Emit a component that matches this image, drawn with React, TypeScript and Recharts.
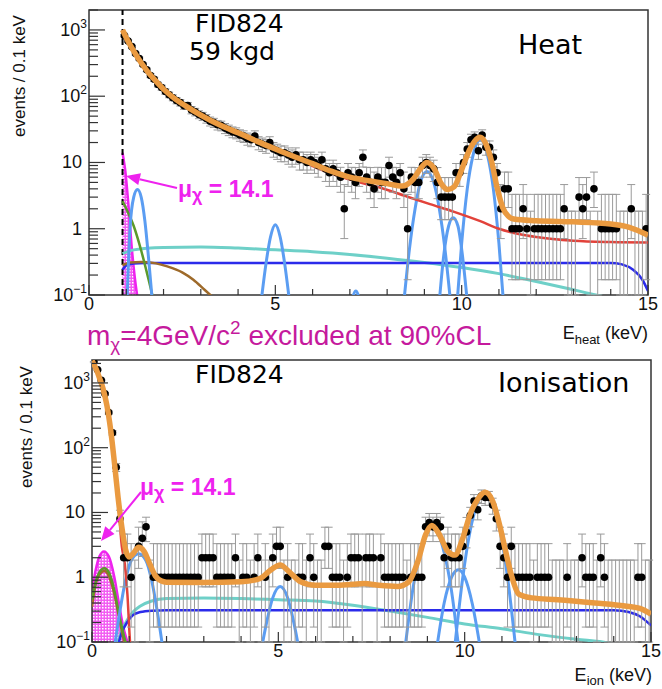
import React from 'react';
import {
  ComposedChart,
  Line,
  Area,
  Scatter,
  ErrorBar,
  XAxis,
  YAxis,
  ReferenceLine,
  ReferenceArea,
} from 'recharts';

type Pt = [number, number];

// events per 0.1 keV bin: entry i is the bin [i/10, (i+1)/10) keV, null = below threshold
const heatCounts: (number | null)[] = [
  null, null, null, null, null, null, null, null, null, 820,
  680, 560, 440, 370, 300, 250, 205, 180, 150, 135,
  118, 105, 95, 86, 80, 72, 72, 62, 58, 53,
  50, 46, 42, 40, 37, 36, 33, 31, 29, 28,
  26, 25, 23, 22, 25, 20, 19, 18, 20, 16,
  15, 14, 14, 13, 12, 13, 11, 11, 10, 11,
  10, 9, 11, 8, 7, 8, 7, 6, 2, 7,
  6, 5, 7, 12, 6, 5, 4, 6, 5, 5,
  9, 6, 5, 7, 4, 1, 6, 5, 5, 9,
  10, 9, 8, 5, 3, 3, 3, 3, 7, 7,
  10, 16, 22, 24, 15, 26, 17, 17, 12, 7,
  2, 4, 4, 1, 1, 1, 2, 1, 0, 1,
  1, 1, 1, 1, 1, 1, 1, 2, 0, 0,
  0, 3, 2, 3, 0, 4, 0, 1, 1, 1,
  1, 1, 0, 0, 0, 2, 0, 0, 0, 1,
];

const ionCounts: number[] = [
  2100, 1600, 1100, 680, 350, 170, 50, 8, 2, 2,
  1, 0, 3, 4, 6, 0, 1, 1, 1, 1,
  1, 1, 1, 1, 1, 1, 1, 1, 1, 2,
  2, 2, 2, 1, 1, 1, 1, 1, 2, 0,
  1, 1, 0, 1, 2, 0, 1, 0, 2, 3,
  3, 0, 1, 0, 0, 1, 1, 0, 2, 1,
  0, 0, 3, 3, 1, 1, 1, 0, 1, 2,
  2, 2, 0, 2, 2, 2, 0, 2, 1, 1,
  1, 1, 1, 1, 0, 1, 1, 1, 1, 6,
  7, 6, 7, 6, 2, 3, 2, 2, 2, 3,
  5, 9, 15, 11, 18, 17, 17, 13, 8, 3,
  2, 1, 3, 1, 1, 1, 1, 1, 0, 1,
  1, 1, 1, 0, 0, 0, 0, 1, 0, 0,
  0, 2, 1, 1, 1, 0, 2, 1, 0, 0,
  0, 0, 0, 0, 0, 0, 1, 1, 0, 0,
];

// heat channel fit, [keV, events / 0.1 keV]
const heatTotal: Pt[] = [
  [0.9, 1000], [1.0, 760], [1.2, 480], [1.4, 320], [1.6, 225], [1.8, 168], [2.0, 128],
  [2.3, 92], [2.6, 71], [3.0, 52], [3.5, 37], [4.0, 28], [4.5, 21], [5.0, 16],
  [5.5, 12.3], [6.0, 9.6], [6.5, 7.4], [7.0, 6.0], [7.5, 5.3], [8.0, 4.8], [8.4, 4.4],
  [8.7, 5.6], [8.9, 8.2], [9.07, 10], [9.25, 8.3], [9.45, 4.8], [9.63, 3.9], [9.8, 4.3],
  [10.0, 7.8], [10.2, 15], [10.35, 21], [10.49, 24], [10.65, 19], [10.8, 10.5], [10.95, 4.2],
  [11.1, 2.1], [11.25, 1.55], [11.4, 1.4], [12.0, 1.32], [13.0, 1.27], [14.0, 1.18],
  [14.5, 1.05], [15.0, 0.8],
];
const heatHeatOnly: Pt[] = [
  [0.9, 990], [1.0, 750], [1.2, 472], [1.4, 315], [1.6, 220], [1.8, 164], [2.0, 125],
  [2.3, 90], [2.6, 69], [3.0, 50.5], [3.5, 36], [4.0, 27], [4.5, 20], [5.0, 15],
  [5.5, 11.5], [6.0, 8.8], [6.5, 6.8], [7.0, 5.5], [7.5, 4.6], [7.8, 4.2], [8.5, 3.1],
  [9.15, 2.35], [9.8, 1.8], [10.5, 1.3], [11.0, 1.0], [11.5, 0.84], [12.0, 0.75],
  [13.0, 0.66], [14.0, 0.63], [15.0, 0.62],
];
const heatCompton: Pt[] = [
  [0.9, 0.42], [1.2, 0.48], [2.0, 0.52], [3.0, 0.53], [4.0, 0.51], [5.0, 0.48], [6.0, 0.45],
  [7.0, 0.41], [8.0, 0.36], [9.0, 0.31], [10.0, 0.26], [11.0, 0.21], [12.0, 0.16],
  [13.0, 0.12], [13.6, 0.1], [14.0, 0.09],
];
const heatFlat: Pt[] = [
  [0.9, 0.24], [1.0, 0.28], [1.2, 0.3], [1.5, 0.305], [14.0, 0.305], [14.3, 0.29],
  [14.6, 0.24], [14.85, 0.17], [15.0, 0.115],
];
const heatBeta: Pt[] = [
  [0.9, 0.28], [1.1, 0.31], [1.4, 0.315], [1.8, 0.3], [2.1, 0.27], [2.5, 0.22],
  [2.8, 0.17], [3.1, 0.12], [3.3, 0.095],
];
const heatLead: Pt[] = [
  [0.9, 2.6], [1.0, 2.0], [1.2, 1.1], [1.4, 0.47], [1.6, 0.17], [1.7, 0.1], [1.75, 0.08],
];
const heatWimp: Pt[] = [
  [0.9, 14], [0.93, 11], [0.97, 7.8], [1.05, 2.6], [1.15, 0.5], [1.28, 0.11], [1.32, 0.08],
];
const heatLines: Pt[][] = [
  [[1.02, 0.08], [1.1, 1.0], [1.2, 3.0], [1.3, 3.9], [1.4, 3.0], [1.5, 1.3], [1.6, 0.35], [1.7, 0.08]],
  [[4.62, 0.08], [4.75, 0.3], [4.87, 0.75], [5.0, 1.15], [5.13, 0.75], [5.25, 0.3], [5.38, 0.08]],
  [[7.05, 0.08], [7.16, 0.115], [7.27, 0.08]],
  [[8.45, 0.08], [8.6, 0.5], [8.75, 2.0], [8.9, 5.2], [9.07, 7.3], [9.25, 5.0], [9.4, 2.0], [9.55, 0.5], [9.7, 0.08]],
  [[9.4, 0.08], [9.52, 0.4], [9.65, 1.1], [9.77, 1.47], [9.9, 1.1], [10.02, 0.4], [10.15, 0.08]],
  [[9.88, 0.08], [10.0, 0.6], [10.15, 4.0], [10.3, 12.5], [10.5, 22], [10.7, 12.5], [10.85, 4.0], [11.0, 0.6], [11.12, 0.08]],
];

// ionisation channel fit
const ionTotal: Pt[] = [
  [0.0, 2200], [0.1, 1700], [0.2, 1200], [0.3, 800], [0.4, 450], [0.5, 190], [0.6, 60],
  [0.7, 17], [0.8, 6], [0.9, 2.7], [1.0, 2.05], [1.1, 2.3], [1.25, 2.9], [1.4, 2.5],
  [1.55, 1.6], [1.7, 1.05], [1.85, 0.88], [2.0, 0.84], [3.0, 0.83], [4.0, 0.85], [4.5, 0.95],
  [4.8, 1.3], [5.05, 1.55], [5.3, 1.2], [5.6, 0.85], [6.0, 0.75], [6.5, 0.75], [7.0, 0.78],
  [7.3, 0.8], [7.7, 0.75], [8.2, 0.72], [8.5, 0.85], [8.75, 1.8], [8.95, 4.5], [9.12, 6.3],
  [9.3, 4.8], [9.55, 2.5], [9.74, 2.2], [9.95, 4], [10.15, 9.5], [10.35, 16], [10.55, 20.5],
  [10.75, 15], [10.95, 6], [11.1, 2.5], [11.25, 1.1], [11.45, 0.55], [11.8, 0.48],
  [12.5, 0.45], [13.5, 0.4], [14.3, 0.36], [14.7, 0.33], [15.0, 0.27],
];
const ionHeatOnly: Pt[] = [
  [0.0, 2150], [0.2, 1150], [0.4, 430], [0.6, 55], [0.7, 15], [0.8, 3.0], [0.88, 1.6],
  [0.95, 0.55], [1.02, 0.1], [1.05, 0.06],
];
const ionCompton: Pt[] = [
  [0.65, 0.08], [0.8, 0.15], [0.95, 0.22], [1.1, 0.29], [1.3, 0.36], [1.6, 0.43], [2.0, 0.47],
  [3.0, 0.48], [4.0, 0.47], [5.0, 0.45], [6.0, 0.43], [7.0, 0.37], [8.0, 0.3], [9.0, 0.24],
  [10.0, 0.19], [11.0, 0.16], [12.0, 0.13], [13.0, 0.11], [13.7, 0.1], [14.2, 0.09],
];
const ionFlat: Pt[] = [
  [0.7, 0.09], [0.8, 0.14], [0.94, 0.2], [1.1, 0.26], [1.3, 0.29], [1.6, 0.305], [2.0, 0.31],
  [14.0, 0.31], [14.4, 0.29], [14.7, 0.25], [15.0, 0.18],
];
const ionBeta: Pt[] = [
  [0.0, 0.35], [0.1, 0.8], [0.2, 1.1], [0.33, 1.25], [0.45, 1.05], [0.6, 0.55], [0.72, 0.25],
  [0.82, 0.13], [0.88, 0.09],
];
const ionLead: Pt[] = [
  [0.0, 0.45], [0.1, 0.85], [0.2, 1.2], [0.33, 1.38], [0.45, 1.2], [0.58, 0.7], [0.7, 0.32],
  [0.8, 0.17], [0.9, 0.1], [0.95, 0.08],
];
const ionWimp: Pt[] = [
  [0.0, 0.6], [0.1, 1.3], [0.2, 2.1], [0.32, 2.5], [0.45, 2.1], [0.6, 1.0], [0.72, 0.4],
  [0.83, 0.18], [0.95, 0.1], [1.0, 0.08],
];
const ionLines: Pt[][] = [
  [[0.6, 0.08], [0.75, 0.3], [0.9, 0.9], [1.05, 1.8], [1.25, 2.3], [1.45, 1.8], [1.6, 0.9], [1.75, 0.3], [1.9, 0.08]],
  [[4.55, 0.08], [4.7, 0.22], [4.85, 0.48], [5.05, 0.72], [5.25, 0.48], [5.4, 0.22], [5.55, 0.08]],
  [[8.4, 0.08], [8.6, 0.6], [8.8, 2.4], [8.95, 4.5], [9.12, 5.7], [9.3, 4.5], [9.45, 2.4], [9.65, 0.6], [9.84, 0.08]],
  [[9.25, 0.08], [9.45, 0.4], [9.65, 1.0], [9.83, 1.3], [10.0, 1.0], [10.2, 0.4], [10.42, 0.08]],
  [[9.73, 0.08], [9.95, 1.0], [10.15, 5.3], [10.35, 14.3], [10.55, 20], [10.75, 14.3], [10.95, 5.3], [11.15, 1.0], [11.37, 0.08]],
];

const xTicks = [0, 1, 2, 3, 4, 5, 6, 7, 8, 9, 10, 11, 12, 13, 14, 15];
const decades = [0.1, 1, 10, 100, 1000];
const mantissas = [1, 2, 3, 4, 5, 6, 7, 8, 9];

// Garwood 68% intervals for small counts
const poisLo = [0, 0.17, 0.71, 1.37, 2.09, 2.84];
const poisHi = [1.84, 3.3, 4.64, 5.92, 7.16, 8.38];

const ORANGE = '#EA9A40';
const RED = '#E2423A';
const LIGHTBLUE = '#5B9DF2';
const CYAN = '#6ED0C8';
const BLUE = '#2B2BEA';
const BROWN = '#9E6A2A';
const GREEN = '#5B9A2B';
const MAGENTA = '#EE22EE';
const EXCL = '#C51A9D';
const FONT = '"Liberation Sans", Arial, Helvetica, sans-serif';
const TITLE_FONT = '"DejaVu Sans", Verdana, sans-serif';

const toPts = (pts: Pt[]) => pts.map(([x, y]) => ({ x, y }));

const binData = (counts: (number | null)[]) => {
  const bins = counts
    .map((n, i) => ({ x: (i + 0.5) / 10, n }))
    .filter((b) => b.n !== null) as { x: number; n: number }[];
  const filled = bins
    .filter((b) => b.n > 0)
    .map((b) => ({
      x: b.x,
      y: b.n,
      err:
        b.n < poisHi.length
          ? [b.n - poisLo[b.n], poisHi[b.n] - b.n]
          : [Math.sqrt(b.n), Math.sqrt(b.n)],
    }));
  const empty = bins
    .filter((b) => b.n === 0)
    .map((b) => ({ x: b.x, y: 0.1, err: [0, poisHi[0] - 0.1] }));
  return { filled, empty };
};

const yTickShape = (left: number) => (p: any) => {
  const v = p.payload.value;
  const lg = Math.log10(v);
  const e = Math.round(lg);
  const major = Math.abs(lg - e) < 1e-6;
  const plain = e === 0 || e === 1;
  return (
    <g>
      <line x1={left} x2={left + (major ? 16 : 9)} y1={p.y} y2={p.y} stroke="#333" strokeWidth={1.2} />
      {major && (
        <text
          x={plain ? left - 7 : left - 2}
          y={p.y + 6}
          textAnchor="end"
          fontSize={18}
          fontFamily={FONT}
          fill="#111"
        >
          {plain ? (
            String(v)
          ) : (
            <>
              <tspan>10</tspan>
              <tspan dy={-8} fontSize={12}>
                {e < 0 ? '\u2212' + -e : String(e)}
              </tspan>
            </>
          )}
        </text>
      )}
    </g>
  );
};

const xTickShape = (bottom: number) => (p: any) => {
  const v = p.payload.value;
  const major = v % 5 === 0;
  return (
    <g>
      <line x1={p.x} x2={p.x} y1={bottom} y2={bottom - (major ? 10 : 6)} stroke="#333" strokeWidth={1.2} />
      {major && (
        <text x={p.x} y={bottom + 15} textAnchor="middle" fontSize={18} fontFamily={FONT} fill="#111">
          {v}
        </text>
      )}
    </g>
  );
};

interface PanelProps {
  id: string;
  top: number;
  height: number;
  margin: { top: number; right: number; bottom: number; left: number };
  yMax: number;
  counts: (number | null)[];
  total: Pt[];
  heatOnly: Pt[];
  compton: Pt[];
  flat: Pt[];
  beta: Pt[];
  lead: Pt[];
  wimp: Pt[];
  lines: Pt[][];
  threshold?: number;
}

const Panel = (props: PanelProps) => {
  const { id, top, height, margin, yMax, counts } = props;
  const plotLeft = margin.left + 60;
  const plotBottom = height - margin.bottom - 30;
  const yTicks: number[] = [];
  decades.forEach((d) => mantissas.forEach((m) => m * d <= yMax && yTicks.push(m * d)));
  const { filled, empty } = binData(counts);
  const curve = (pts: Pt[], color: string, w: number, key: string) => (
    <Line
      key={key}
      data={toPts(pts)}
      dataKey="y"
      type="monotone"
      stroke={color}
      strokeWidth={w}
      dot={false}
      isAnimationActive={false}
    />
  );

  return (
    <div style={{ position: 'absolute', left: 0, top }}>
      <ComposedChart width={662} height={height} margin={margin}>
        <defs>
          <pattern id={`dots-${id}`} width="3" height="3" patternUnits="userSpaceOnUse">
            <rect width="3" height="3" fill="#F25CF2" />
            <rect width="1.5" height="1.5" fill="#FFFFFF" />
          </pattern>
        </defs>
        <XAxis
          dataKey="x"
          type="number"
          domain={[0, 15]}
          ticks={xTicks}
          interval={0}
          allowDataOverflow
          axisLine={false}
          tickLine={false}
          tickSize={0}
          tickMargin={0}
          height={30}
          tick={xTickShape(plotBottom)}
        />
        <YAxis
          type="number"
          scale="log"
          domain={[0.1, yMax]}
          ticks={yTicks}
          interval={0}
          allowDataOverflow
          axisLine={false}
          tickLine={false}
          tickSize={0}
          tickMargin={0}
          width={60}
          tick={yTickShape(plotLeft)}
        />
        {props.threshold !== undefined && (
          <ReferenceLine x={props.threshold} stroke="#000" strokeWidth={2} strokeDasharray="6 4" />
        )}
        <Area
          data={toPts(props.wimp)}
          dataKey="y"
          type="monotone"
          baseValue={0.1}
          stroke={MAGENTA}
          strokeWidth={2.5}
          fill={`url(#dots-${id})`}
          fillOpacity={1}
          isAnimationActive={false}
        />
        {curve(props.compton, CYAN, 3, 'compton')}
        {curve(props.flat, BLUE, 2.5, 'flat')}
        {curve(props.beta, BROWN, 2.5, 'beta')}
        {curve(props.lead, GREEN, 2.5, 'lead')}
        {props.lines.map((g, i) => curve(g, LIGHTBLUE, 3, `line-${i}`))}
        {curve(props.heatOnly, RED, 2.5, 'heatonly')}
        <Scatter data={empty} dataKey="y" isAnimationActive={false} shape={() => <g />}>
          <ErrorBar dataKey="err" direction="y" width={4} stroke="#9a9a9a" strokeWidth={1} />
        </Scatter>
        <Scatter
          data={filled}
          dataKey="y"
          isAnimationActive={false}
          shape={(p: any) => <circle cx={p.cx} cy={p.cy} r={3.8} fill="#000" />}
        >
          <ErrorBar dataKey="err" direction="y" width={4} stroke="#9a9a9a" strokeWidth={1} />
        </Scatter>
        {/* total fit, drawn as a scatter line so it sits above the data points */}
        <Scatter
          data={toPts(props.total)}
          dataKey="y"
          isAnimationActive={false}
          shape={() => <g />}
          line={{ stroke: ORANGE, strokeWidth: 5.5, fill: 'none' }}
          lineJointType="monotone"
        />
        <ReferenceArea
          x1={0}
          x2={15}
          y1={0.1}
          y2={yMax}
          fill="none"
          stroke="#333"
          strokeWidth={1.5}
          ifOverflow="visible"
        />
      </ComposedChart>
    </div>
  );
};

const Arrow = ({ from, to, color }: { from: Pt; to: Pt; color: string }) => {
  const dx = to[0] - from[0];
  const dy = to[1] - from[1];
  const len = Math.hypot(dx, dy);
  const ux = dx / len;
  const uy = dy / len;
  const bx = to[0] - ux * 14;
  const by = to[1] - uy * 14;
  const head = `${to[0]},${to[1]} ${bx - uy * 6},${by + ux * 6} ${bx + uy * 6},${by - ux * 6}`;
  return (
    <g>
      <line x1={from[0]} y1={from[1]} x2={bx} y2={by} stroke={color} strokeWidth={2} />
      <polygon points={head} fill={color} />
    </g>
  );
};

const MuLabel = ({ x, y }: { x: number; y: number }) => (
  <text x={x} y={y} fontSize={23} fontWeight="bold" fontFamily={FONT} fill={MAGENTA}>
    <tspan>μ</tspan>
    <tspan dy={4} fontSize={18}>χ</tspan>
    <tspan dy={-4}> = 14.1</tspan>
  </text>
);

export default function App() {
  return (
    <div
      style={{
        position: 'absolute',
        left: 0,
        top: 0,
        width: 662,
        height: 689,
        background: '#fff',
        overflow: 'hidden',
      }}
    >
      <Panel
        id="heat"
        top={0}
        height={345}
        margin={{ top: 10, right: 14, bottom: 20, left: 29 }}
        yMax={2000}
        counts={heatCounts}
        total={heatTotal}
        heatOnly={heatHeatOnly}
        compton={heatCompton}
        flat={heatFlat}
        beta={heatBeta}
        lead={heatLead}
        wimp={heatWimp}
        lines={heatLines}
        threshold={0.9}
      />
      <Panel
        id="ion"
        top={340}
        height={349}
        margin={{ top: 20, right: 11, bottom: 17, left: 32 }}
        yMax={2260}
        counts={ionCounts}
        total={ionTotal}
        heatOnly={ionHeatOnly}
        compton={ionCompton}
        flat={ionFlat}
        beta={ionBeta}
        lead={ionLead}
        wimp={ionWimp}
        lines={ionLines}
      />
      <svg
        width={662}
        height={689}
        style={{ position: 'absolute', left: 0, top: 0, pointerEvents: 'none' }}
      >
        <text x={195} y={32} fontSize={25} fontFamily={TITLE_FONT} fill="#000">FID824</text>
        <text x={189} y={60} fontSize={25} fontFamily={TITLE_FONT} fill="#000">59 kgd</text>
        <text x={518} y={54} fontSize={27} fontFamily={TITLE_FONT} fill="#000">Heat</text>
        <text x={195} y={383} fontSize={25} fontFamily={TITLE_FONT} fill="#000">FID824</text>
        <text x={498} y={392} fontSize={27} fontFamily={TITLE_FONT} fill="#000">Ionisation</text>

        <text transform="translate(25,76) rotate(-90)" textAnchor="middle" fontSize={17} fontFamily={FONT} fill="#111">
          events / 0.1 keV
        </text>
        <text transform="translate(32,427) rotate(-90)" textAnchor="middle" fontSize={17} fontFamily={FONT} fill="#111">
          events / 0.1 keV
        </text>

        <text x={648} y={339} textAnchor="end" fontSize={18} fontFamily={FONT} fill="#111">
          <tspan>E</tspan>
          <tspan dy={5} fontSize={13}>heat</tspan>
          <tspan dy={-5}> (keV)</tspan>
        </text>
        <text x={652} y={681} textAnchor="end" fontSize={18} fontFamily={FONT} fill="#111">
          <tspan>E</tspan>
          <tspan dy={4} fontSize={13}>ion</tspan>
          <tspan dy={-4}> (keV)</tspan>
        </text>

        <text x={87} y={345} fontSize={28} fontFamily={FONT} fill={EXCL}>
          <tspan>m</tspan>
          <tspan dy={6} fontSize={19}>χ</tspan>
          <tspan dy={-6}>=4GeV/c</tspan>
          <tspan dy={-11} fontSize={19}>2</tspan>
          <tspan dy={11}> excluded at 90%CL</tspan>
        </text>

        <Arrow from={[177, 188]} to={[126, 176]} color={MAGENTA} />
        <MuLabel x={178} y={197} />
        <Arrow from={[141, 492]} to={[101, 541]} color={MAGENTA} />
        <MuLabel x={140} y={495} />
      </svg>
    </div>
  );
}
